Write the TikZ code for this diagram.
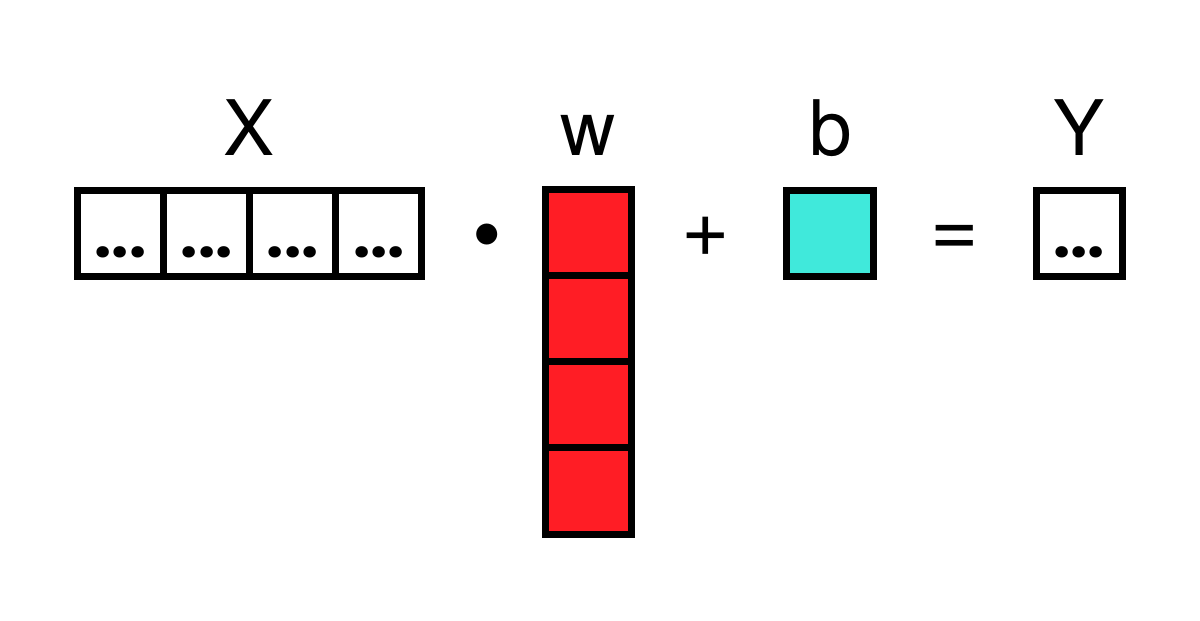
\documentclass[tikz,border=0pt]{standalone}
\usepackage{fontspec}
\setmainfont{TeX Gyre Heros}
\newfontfamily\dotsfont{Poppins}
\definecolor{wred}{RGB}{255,29,37}
\definecolor{bcyan}{RGB}{64,233,219}
\begin{document}
\begin{tikzpicture}[x=1pt,y=-1pt,
  cell/.style={draw=black,line width=7pt,rectangle,inner sep=0pt,minimum width=86.1pt,minimum height=86.5pt},
  lbl/.style={anchor=base,inner sep=0pt,font=\fontsize{76.6}{80}\selectfont},
  op/.style={anchor=base,inner sep=0pt,font=\fontsize{83}{86}\selectfont},
  ell/.style={anchor=base,inner sep=0pt,font=\dotsfont\bfseries\fontsize{61}{64}\selectfont}]
\useasboundingbox[fill=white] (0,0) rectangle (1200,621);
% labels
\node[lbl] (lx) at (249.5,155) {X};
\node[lbl] (lw) at (588,155) {w};
\node[lbl] (lb) at (830.3,155) {b};
\node[lbl] (ly) at (1079,155) {Y};
% X row
\foreach \i/\x in {1/120.55,2/206.65,3/292.75,4/378.85}{
  \node[cell] (x\i) at (\x,233.35) {};
  \node[ell] (xd\i) at (\x,257.5) {...};
}
% operators
\node[anchor=base,inner sep=0pt,font=\fontsize{84}{88}\selectfont] (dot) at (487.3,263) {•};
\node[op] (plus) at (705.7,256.7) {+};
\node[op] (eq) at (954.5,256.7) {=};
% w column
\foreach \i/\y in {1/232.55,2/318.65,3/404.75,4/490.85}{
  \node[cell,fill=wred,minimum width=86pt] (w\i) at (588,\y) {};
}
% b
\node[cell,fill=bcyan,minimum width=86.4pt] (b) at (830,233.35) {};
% Y
\node[cell,minimum width=86pt] (y) at (1079,233.35) {};
\node[ell] (yd) at (1079,257.5) {...};
\end{tikzpicture}
\end{document}
